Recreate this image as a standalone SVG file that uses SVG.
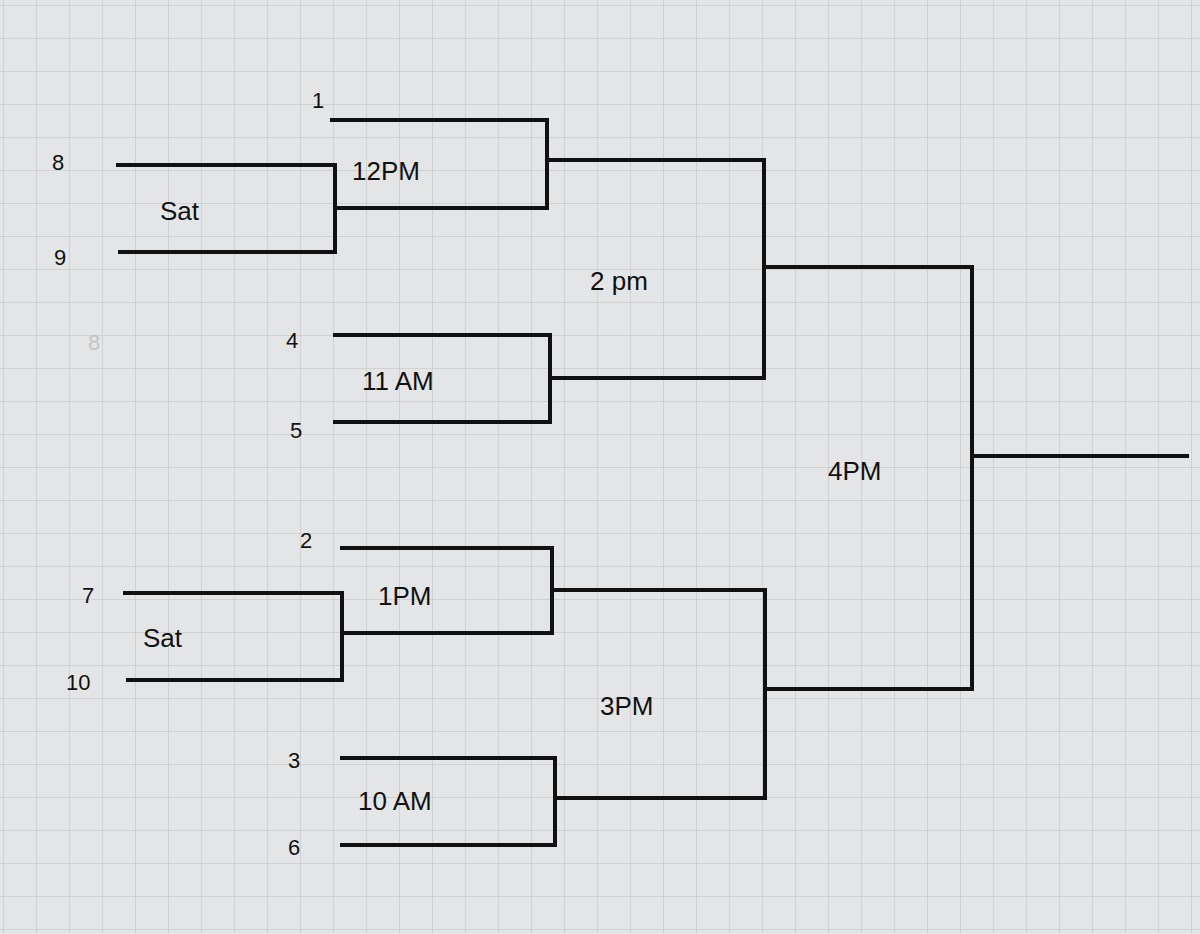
<svg xmlns="http://www.w3.org/2000/svg" width="1200" height="934" viewBox="0 0 1200 934">
<defs>
<pattern id="grid" width="33" height="33" patternUnits="userSpaceOnUse" x="4" y="6">
<path d="M33 0V33M0 33H33" fill="none" stroke="#c9cacb" stroke-width="1.5"/>
</pattern>
<style>
.l{fill:none;stroke:#111;stroke-width:4;stroke-linecap:square}
.t{font-family:"Liberation Sans",sans-serif;font-size:26px;fill:#111}
.s{font-family:"Liberation Sans",sans-serif;font-size:22px;fill:#111}
</style>
</defs>
<rect width="1200" height="934" fill="#e4e5e6"/>
<rect width="1200" height="934" fill="url(#grid)"/>
<g id="connectors">
<path class="l" d="M118 165H335V252H120M335 208H547"/>
<path class="l" d="M332 120H547V208M547 160H762"/>
<path class="l" d="M335 335H550V422H335M550 378H764"/>
<path class="l" d="M762 160H764V378M764 267H972"/>
<path class="l" d="M125 593H342V680H128M342 633H552"/>
<path class="l" d="M342 548H552V633M552 590H765"/>
<path class="l" d="M342 758H555V845H342M555 798H765"/>
<path class="l" d="M765 590V798M765 689H972"/>
<path class="l" d="M972 267V689M972 456H1187"/>
</g>
<g id="labels">
<text class="t" x="352" y="180">12PM</text>
<text class="t" x="160" y="220">Sat</text>
<text class="t" x="590" y="290">2 pm</text>
<text class="t" x="362" y="390">11 AM</text>
<text class="t" x="828" y="480">4PM</text>
<text class="t" x="378" y="605">1PM</text>
<text class="t" x="143" y="647">Sat</text>
<text class="t" x="600" y="715">3PM</text>
<text class="t" x="358" y="810">10 AM</text>
</g>
<g id="seeds">
<text class="s" x="312" y="108">1</text>
<text class="s" x="52" y="170">8</text>
<text class="s" x="54" y="265">9</text>
<text class="s" x="88" y="350" fill="#bbb" style="fill:#c4c4c4">8</text>
<text class="s" x="286" y="348">4</text>
<text class="s" x="290" y="438">5</text>
<text class="s" x="300" y="548">2</text>
<text class="s" x="82" y="603">7</text>
<text class="s" x="66" y="690">10</text>
<text class="s" x="288" y="768">3</text>
<text class="s" x="288" y="855">6</text>
</g>
</svg>
